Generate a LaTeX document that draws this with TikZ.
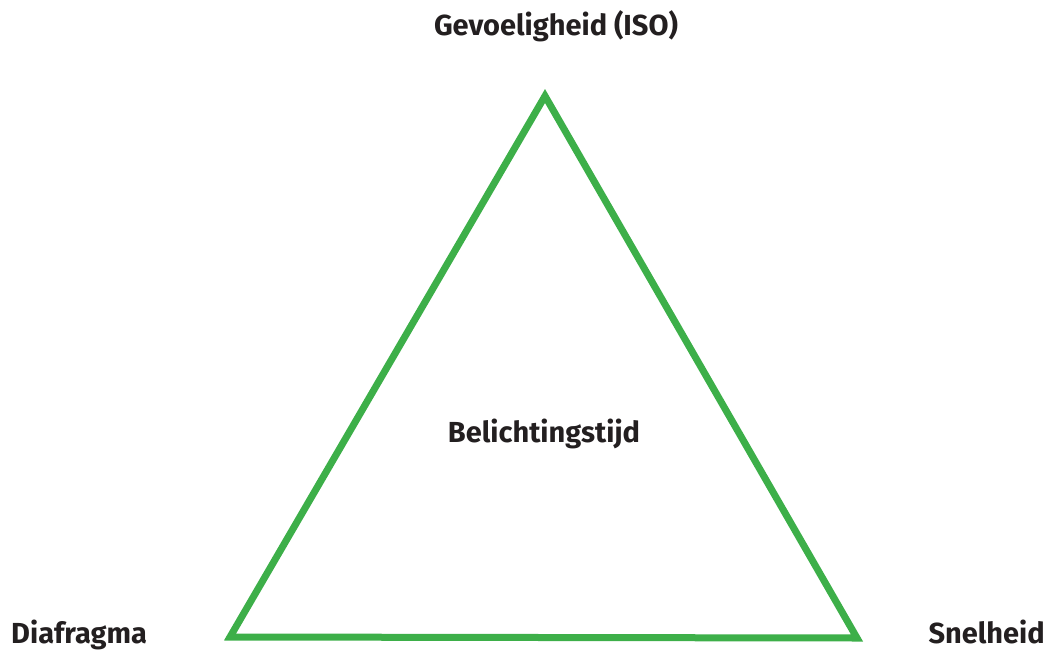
\documentclass[tikz,border=0pt]{standalone}
\usepackage{fontspec}
\setmainfont{Fira Sans}
\definecolor{tgreen}{HTML}{3DAF49}
\definecolor{ttext}{HTML}{231F20}
\begin{document}
\begin{tikzpicture}[x=1pt,y=-1pt,
  lbl/.style={font=\fontsize{29}{33}\selectfont\bfseries, text=ttext, inner sep=0pt}]
\useasboundingbox (0,0) rectangle (1051,650);
\coordinate (top) at (545,96);
\coordinate (bl) at (230,637);
\coordinate (br) at (857,638);
\draw[tgreen, line width=7pt, line join=miter] (top) -- (bl) -- (br) -- cycle;
\node[lbl, anchor=base] (iso) at (556,36) {Gevoeligheid (ISO)};
\node[lbl, anchor=base] (bel) at (544,442) {Belichtingstijd};
\node[lbl, anchor=base west] (dia) at (11,643) {Diafragma};
\node[lbl, anchor=base east] (sne) at (1045,643) {Snelheid};
\end{tikzpicture}
\end{document}
